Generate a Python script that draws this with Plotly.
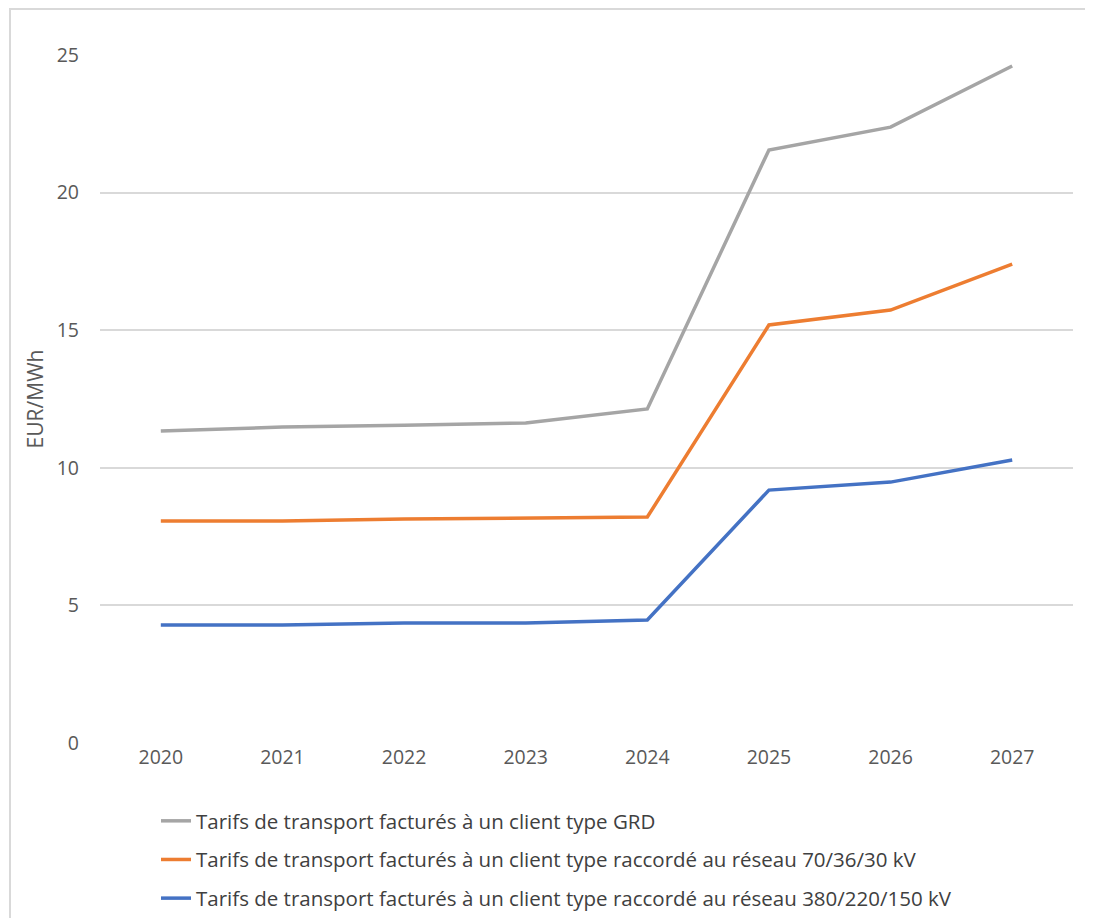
import plotly.graph_objects as go

years = ["2020", "2021", "2022", "2023", "2024", "2025", "2026", "2027"]
grd = [11.34, 11.48, 11.55, 11.63, 12.14, 21.55, 22.38, 24.6]
r70 = [8.07, 8.07, 8.14, 8.18, 8.21, 15.19, 15.73, 17.4]
r380 = [4.29, 4.29, 4.36, 4.36, 4.47, 9.19, 9.48, 10.28]
names = [
    "Tarifs de transport facturés à un client type GRD",
    "Tarifs de transport facturés à un client type raccordé au réseau 70/36/30 kV",
    "Tarifs de transport facturés à un client type raccordé au réseau 380/220/150 kV",
]
colors = ["#A5A5A5", "#ED7D31", "#4472C4"]
series = [grd, r70, r380]

OFF = 8  # page body margin
W, H = 1093 - 2 * OFF, 918 - OFF
# plot area in page coordinates: x 100..1073, y 55..743
L = 100 - OFF
T = 55 - OFF
R = W - (1073 - OFF)
B = H - (743 - OFF)
pw, ph = W - L - R, H - T - B


def px(x):
    return (x - OFF - L) / pw


def py(y):
    return (H - B - (y - OFF)) / ph


fig = go.Figure()
for i, (vals, nm, c) in enumerate(zip(series, names, colors)):
    fig.add_trace(go.Scatter(x=years, y=vals, name=nm, mode="lines",
                             line=dict(color=c, width=3.5),
                             legendgroup=str(i)))

fig.add_shape(type="rect", xref="paper", yref="paper",
              x0=px(10), x1=px(1120), y0=py(9), y1=py(960),
              line=dict(color="#D9D9D9", width=2), layer="below")

fig.update_layout(
    width=W, height=H,
    margin=dict(l=L, r=R, t=T, b=B, autoexpand=False),
    paper_bgcolor="white", plot_bgcolor="white",
    font=dict(family="Open Sans, Liberation Sans, sans-serif", color="#595959", size=19),
    showlegend=True,
    legend=dict(x=px(156), xref="paper", yref="container",
                y=1 - (801 - OFF) / H, xanchor="left", yanchor="top",
                font=dict(size=20.5, color="#404040"),
                tracegroupgap=9, bgcolor="rgba(0,0,0,0)"),
    xaxis=dict(type="category", range=[-0.5, 7.5], showgrid=False,
               showline=False, ticks="", tickfont=dict(size=19.5, color="#595959"),
               fixedrange=True),
    yaxis=dict(range=[0, 25], tickvals=[0, 5, 10, 15, 20, 25],
               showgrid=True, gridcolor="#D9D9D9", gridwidth=1.5,
               zeroline=False, showline=False, ticks="",
               tickfont=dict(size=19.5, color="#595959"), ticklabelstandoff=20,
               title=dict(text="EUR/MWh", font=dict(size=21, color="#595959"), standoff=7)),
)

fig.write_html("out.html")
